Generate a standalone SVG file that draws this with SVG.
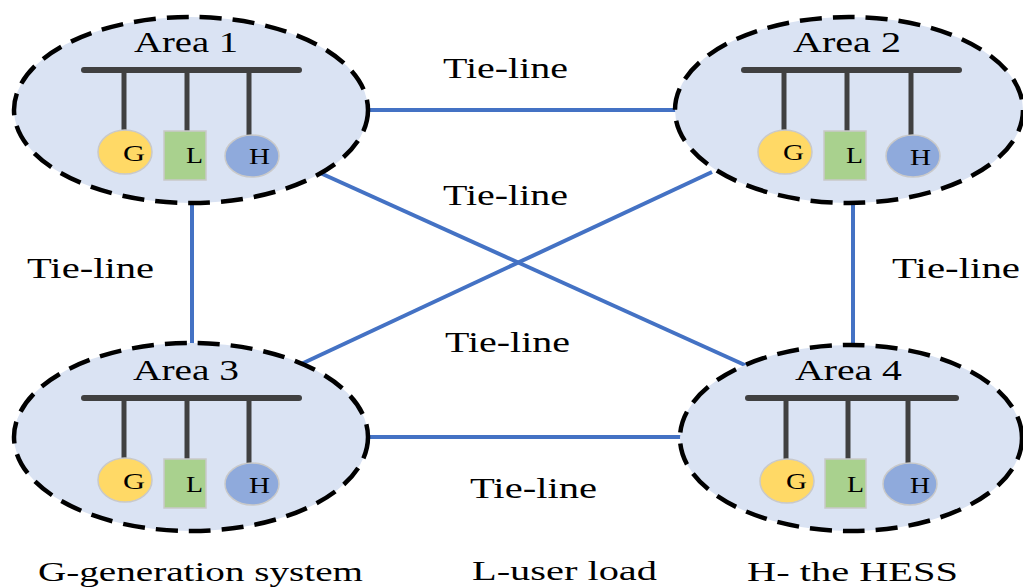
<svg xmlns="http://www.w3.org/2000/svg" width="1023" height="587" viewBox="0 0 1023 587">
  <style>
    .area { fill: #DAE3F3; stroke: #000; stroke-width: 4.5; stroke-dasharray: 22 11; }
    .bus { stroke: #404040; stroke-width: 6; stroke-linecap: round; fill: none; }
    .drop { stroke: #404040; stroke-width: 5; fill: none; }
    .gen { fill: #FFD966; stroke: #C9C9C9; stroke-width: 1.5; }
    .load { fill: #A9D18E; stroke: #C9C9C9; stroke-width: 1.5; }
    .hess { fill: #8FAADC; stroke: #C9C9C9; stroke-width: 1.5; }
    .tie { stroke: #4472C4; stroke-width: 4; fill: none; }
    text { font-family: "Liberation Serif", "Times New Roman", serif; fill: #000; }
    .title { font-size: 30px; }
    .sym { font-size: 23px; }
    .lbl { font-size: 29px; }
    .legend { font-size: 28px; }
  </style>

  <!-- tie-lines between the four areas -->
  <g id="connectors">
    <line class="tie" x1="366" y1="110" x2="677" y2="110"/>
    <line class="tie" x1="366" y1="437" x2="681" y2="437"/>
    <line class="tie" x1="192" y1="202" x2="192" y2="344"/>
    <line class="tie" x1="853" y1="202" x2="853" y2="346"/>
    <line class="tie" x1="318" y1="172" x2="747" y2="366"/>
    <line class="tie" x1="299" y1="365" x2="712" y2="172"/>
  </g>

  <g id="area1">
    <ellipse class="area" cx="191" cy="110" rx="177" ry="93"/>
    <text class="title" x="134" y="52" textLength="104" lengthAdjust="spacingAndGlyphs">Area 1</text>
    <line class="bus" x1="84" y1="70" x2="299" y2="70"/>
    <line class="drop" x1="124" y1="70" x2="124" y2="131"/>
    <line class="drop" x1="187" y1="70" x2="187" y2="131"/>
    <line class="drop" x1="249" y1="70" x2="249" y2="135"/>
    <ellipse class="gen" cx="125" cy="152" rx="27" ry="22"/>
    <rect class="load" x="164" y="131" width="42" height="49"/>
    <ellipse class="hess" cx="252" cy="156" rx="27" ry="21"/>
    <text class="sym" x="123" y="161" textLength="22" lengthAdjust="spacingAndGlyphs">G</text>
    <text class="sym" x="186" y="163" textLength="17" lengthAdjust="spacingAndGlyphs">L</text>
    <text class="sym" x="249" y="164" textLength="21" lengthAdjust="spacingAndGlyphs">H</text>
  </g>

  <g id="area2">
    <ellipse class="area" cx="849" cy="110" rx="174" ry="93"/>
    <text class="title" x="793" y="52" textLength="108" lengthAdjust="spacingAndGlyphs">Area 2</text>
    <line class="bus" x1="744" y1="70" x2="959" y2="70"/>
    <line class="drop" x1="784" y1="70" x2="784" y2="131"/>
    <line class="drop" x1="847" y1="70" x2="847" y2="131"/>
    <line class="drop" x1="911" y1="70" x2="911" y2="135"/>
    <ellipse class="gen" cx="785" cy="152" rx="27" ry="22"/>
    <rect class="load" x="824" y="131" width="42" height="49"/>
    <ellipse class="hess" cx="913" cy="156" rx="27" ry="21"/>
    <text class="sym" x="783" y="160" textLength="21" lengthAdjust="spacingAndGlyphs">G</text>
    <text class="sym" x="846" y="163" textLength="17" lengthAdjust="spacingAndGlyphs">L</text>
    <text class="sym" x="910" y="165" textLength="21" lengthAdjust="spacingAndGlyphs">H</text>
  </g>

  <g id="area3">
    <ellipse class="area" cx="191" cy="437" rx="177" ry="94"/>
    <text class="title" x="133" y="380" textLength="106" lengthAdjust="spacingAndGlyphs">Area 3</text>
    <line class="bus" x1="84" y1="398" x2="299" y2="398"/>
    <line class="drop" x1="124" y1="398" x2="124" y2="459"/>
    <line class="drop" x1="187" y1="398" x2="187" y2="459"/>
    <line class="drop" x1="249" y1="398" x2="249" y2="463"/>
    <ellipse class="gen" cx="125" cy="480" rx="27" ry="22"/>
    <rect class="load" x="164" y="459" width="42" height="49"/>
    <ellipse class="hess" cx="252" cy="484" rx="27" ry="21"/>
    <text class="sym" x="123" y="489" textLength="22" lengthAdjust="spacingAndGlyphs">G</text>
    <text class="sym" x="186" y="492" textLength="17" lengthAdjust="spacingAndGlyphs">L</text>
    <text class="sym" x="249" y="493" textLength="21" lengthAdjust="spacingAndGlyphs">H</text>
  </g>

  <g id="area4">
    <ellipse class="area" cx="851" cy="438" rx="171" ry="93"/>
    <text class="title" x="795" y="380" textLength="107" lengthAdjust="spacingAndGlyphs">Area 4</text>
    <line class="bus" x1="748" y1="398" x2="956" y2="398"/>
    <line class="drop" x1="786" y1="398" x2="786" y2="459"/>
    <line class="drop" x1="848" y1="398" x2="848" y2="459"/>
    <line class="drop" x1="908" y1="398" x2="908" y2="463"/>
    <ellipse class="gen" cx="787" cy="481" rx="27" ry="22"/>
    <rect class="load" x="825" y="459" width="41" height="49"/>
    <ellipse class="hess" cx="910" cy="484" rx="27" ry="21"/>
    <text class="sym" x="786" y="489" textLength="21" lengthAdjust="spacingAndGlyphs">G</text>
    <text class="sym" x="847" y="492" textLength="17" lengthAdjust="spacingAndGlyphs">L</text>
    <text class="sym" x="910" y="493" textLength="20" lengthAdjust="spacingAndGlyphs">H</text>
  </g>

  <!-- tie-line labels -->
  <g id="tie-labels">
    <text class="lbl" x="443" y="78" textLength="125" lengthAdjust="spacingAndGlyphs">Tie-line</text>
    <text class="lbl" x="443" y="205" textLength="125" lengthAdjust="spacingAndGlyphs">Tie-line</text>
    <text class="lbl" x="445" y="352" textLength="125" lengthAdjust="spacingAndGlyphs">Tie-line</text>
    <text class="lbl" x="470" y="498" textLength="127" lengthAdjust="spacingAndGlyphs">Tie-line</text>
    <text class="lbl" x="27" y="278" textLength="127" lengthAdjust="spacingAndGlyphs">Tie-line</text>
    <text class="lbl" x="892" y="278" textLength="128" lengthAdjust="spacingAndGlyphs">Tie-line</text>
  </g>

  <!-- legend -->
  <g id="legend">
    <text class="legend" x="38" y="581" textLength="325" lengthAdjust="spacingAndGlyphs">G-generation system</text>
    <text class="legend" x="472" y="580" textLength="185" lengthAdjust="spacingAndGlyphs">L-user load</text>
    <text class="legend" x="747" y="581" textLength="211" lengthAdjust="spacingAndGlyphs">H- the HESS</text>
  </g>
</svg>
